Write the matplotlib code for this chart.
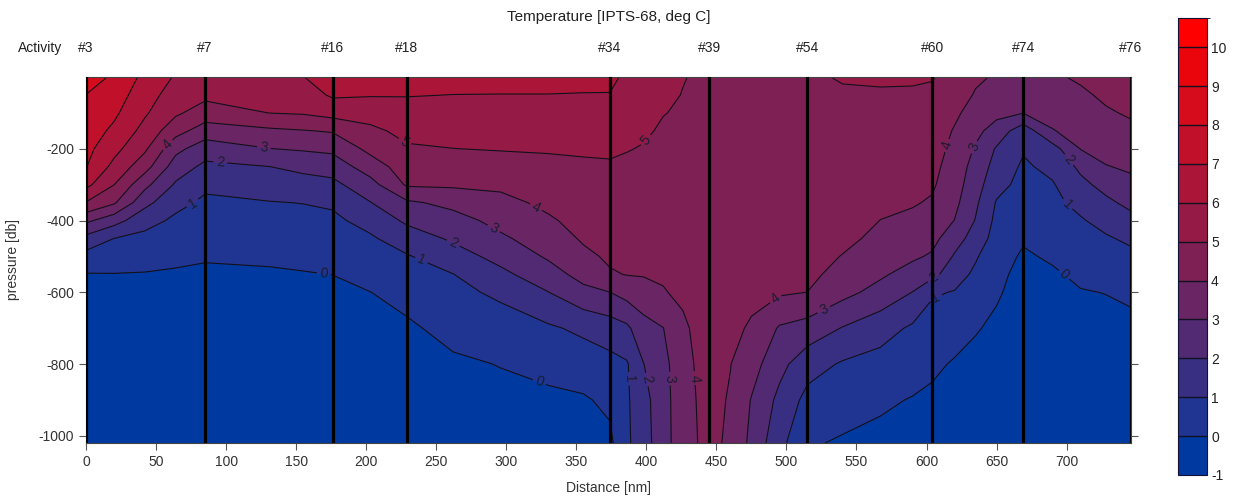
import numpy as np
import matplotlib
matplotlib.use("Agg")
import matplotlib.pyplot as plt
from matplotlib.colors import ListedColormap, BoundaryNorm
from matplotlib.transforms import blended_transform_factory

plt.rcParams['font.family'] = ['Liberation Sans', 'DejaVu Sans']
plt.rcParams['axes.unicode_minus'] = False

# ---------------- data ----------------
pressure_db = [0, 50, 100, 150, 200, 250, 300, 350, 400, 450, 500, 550, 600, 700, 800, 900, 1020]

station_names = ['#3', '#7', '#16', '#18', '#34', '#39', '#54', '#60', '#74', '#76']
station_dist = [0, 85, 176, 229, 374, 445, 515, 604, 669, 746]

# temperature profiles (deg C) at each cast, one row per cast, values at pressure_db
dist_a = [0, 20, 42, 64, 85]
temp_a = [
    [8.6, 7.98, 7.74, 7.51, 7.28, 7.04, 6.27, 4.95, 3.21, 1.68, 0.65, -0.05, -0.30, -0.45, -0.50, -0.50, -0.55],
    [7.8, 7.49, 7.18, 6.80, 6.30, 5.72, 5.01, 4.13, 2.39, 0.99, 0.49, -0.03, -0.30, -0.45, -0.50, -0.50, -0.55],
    [6.75, 6.44, 6.12, 5.68, 5.16, 4.40, 3.27, 2.29, 1.35, 0.74, 0.33, -0.05, -0.30, -0.45, -0.50, -0.50, -0.55],
    [5.9, 5.53, 5.15, 4.38, 3.27, 2.51, 1.88, 1.27, 0.82, 0.50, 0.18, -0.10, -0.30, -0.45, -0.50, -0.50, -0.55],
    [5.7, 5.22, 4.56, 3.50, 2.48, 1.78, 1.18, 0.83, 0.58, 0.33, 0.08, -0.15, -0.30, -0.45, -0.50, -0.50, -0.55],
]
dist_b = [131, 155, 176, 203, 229]
temp_b = [
    [5.6, 5.30, 5.01, 3.82, 2.98, 1.99, 1.46, 0.96, 0.69, 0.42, 0.16, -0.12, -0.30, -0.45, -0.50, -0.50, -0.55],
    [5.98, 5.55, 5.09, 3.95, 3.10, 2.25, 1.60, 1.02, 0.74, 0.52, 0.21, -0.05, -0.28, -0.42, -0.50, -0.50, -0.55],
    [6.4, 6.13, 5.36, 4.08, 3.22, 2.43, 1.74, 1.14, 0.80, 0.54, 0.27, 0.01, -0.25, -0.40, -0.45, -0.50, -0.50],
    [6.4, 6.06, 5.41, 4.78, 4.27, 3.49, 2.64, 1.97, 1.34, 0.87, 0.58, 0.28, -0.01, -0.30, -0.40, -0.45, -0.50],
    [6.4, 6.04, 5.65, 5.27, 4.88, 4.50, 4.12, 2.84, 2.17, 1.50, 0.92, 0.61, 0.31, -0.15, -0.30, -0.40, -0.45],
]
dist_c = [262, 296, 330, 355, 374]
temp_c = [
    [6.35, 5.99, 5.67, 5.33, 4.99, 4.58, 4.15, 3.27, 2.63, 2.14, 1.56, 0.98, 0.75, 0.29, -0.15, -0.30, -0.40],
    [6.35, 5.98, 5.67, 5.36, 5.05, 4.63, 4.18, 3.74, 3.30, 2.84, 2.32, 1.76, 1.18, 0.55, 0.03, -0.25, -0.35],
    [6.35, 5.98, 5.67, 5.37, 5.08, 4.78, 4.49, 4.20, 3.88, 3.50, 3.12, 2.59, 1.98, 0.86, 0.29, -0.20, -0.30],
    [6.35, 5.95, 5.67, 5.39, 5.10, 4.88, 4.68, 4.49, 4.30, 4.11, 3.79, 3.33, 2.73, 1.20, 0.48, -0.10, -0.25],
    [6.3, 5.95, 5.67, 5.40, 5.12, 4.91, 4.76, 4.60, 4.45, 4.29, 4.14, 3.91, 2.99, 1.51, 0.70, 0.19, -0.20],
]
dist_d = [386, 398, 412, 426, 445]
temp_d = [
    [5.75, 5.57, 5.39, 5.21, 5.03, 4.88, 4.74, 4.60, 4.46, 4.32, 4.18, 4.03, 3.37, 1.80, 0.90, 0.85, 0.80],
    [5.45, 5.33, 5.21, 5.09, 4.96, 4.83, 4.71, 4.58, 4.45, 4.32, 4.19, 4.06, 3.62, 2.63, 1.98, 1.70, 1.65],
    [5.25, 5.14, 5.02, 4.92, 4.82, 4.71, 4.61, 4.51, 4.40, 4.30, 4.20, 4.09, 3.95, 2.98, 2.65, 2.55, 2.50],
    [5.03, 4.98, 4.93, 4.88, 4.83, 4.78, 4.73, 4.67, 4.60, 4.50, 4.40, 4.28, 4.15, 3.85, 3.75, 3.72, 3.72],
    [4.85, 4.85, 4.84, 4.83, 4.82, 4.80, 4.78, 4.75, 4.72, 4.68, 4.64, 4.60, 4.55, 4.45, 4.35, 4.28, 4.22],
]
dist_e = [460, 475, 495, 515]
temp_e = [
    [4.85, 4.85, 4.84, 4.83, 4.82, 4.80, 4.78, 4.75, 4.70, 4.64, 4.57, 4.50, 4.42, 4.20, 4.02, 3.92, 3.85],
    [4.85, 4.85, 4.84, 4.82, 4.80, 4.77, 4.73, 4.68, 4.62, 4.54, 4.45, 4.33, 4.20, 3.90, 3.40, 2.95, 2.75],
    [4.88, 4.88, 4.87, 4.85, 4.83, 4.80, 4.75, 4.68, 4.60, 4.50, 4.38, 4.22, 4.12, 2.90, 2.30, 1.75, 1.30],
    [4.9, 4.90, 4.90, 4.88, 4.86, 4.83, 4.79, 4.73, 4.65, 4.55, 4.42, 4.25, 3.99, 2.60, 1.40, 0.70, 0.10],
]
dist_f = [540, 567, 590, 604]
temp_f = [
    [5.05, 4.92, 4.88, 4.84, 4.80, 4.75, 4.68, 4.58, 4.45, 4.25, 3.96, 3.65, 3.30, 1.95, 0.90, 0.40, -0.10],
    [5.1, 4.92, 4.82, 4.72, 4.62, 4.50, 4.35, 4.18, 3.99, 3.75, 3.50, 3.15, 2.65, 1.40, 0.65, 0.15, -0.25],
    [5.1, 4.90, 4.78, 4.66, 4.53, 4.40, 4.25, 4.08, 3.80, 3.50, 3.15, 2.60, 1.98, 0.85, 0.40, -0.05, -0.35],
    [5.05, 4.85, 4.70, 4.55, 4.40, 4.25, 4.12, 3.90, 3.60, 3.30, 2.88, 2.30, 1.10, 0.60, 0.20, -0.20, -0.40],
]
dist_g = [620, 635, 650, 669]
temp_g = [
    [4.7, 4.45, 4.18, 3.92, 3.75, 3.60, 3.45, 3.25, 2.98, 2.40, 1.90, 1.40, 0.95, 0.45, -0.10, -0.35, -0.45],
    [4.15, 3.92, 3.60, 3.25, 2.90, 2.60, 2.40, 2.18, 1.95, 1.60, 1.10, 0.82, 0.60, 0.08, -0.30, -0.45, -0.50],
    [3.9, 3.60, 3.25, 2.60, 1.90, 1.65, 1.35, 0.92, 0.75, 0.58, 0.40, 0.25, 0.12, -0.20, -0.40, -0.50, -0.55],
    [3.65, 3.40, 3.02, 1.40, 1.10, 0.85, 0.68, 0.52, 0.32, 0.10, -0.12, -0.30, -0.40, -0.50, -0.55, -0.55, -0.55],
]
dist_h = [690, 710, 728, 746]
temp_h = [
    [3.9, 3.60, 3.35, 2.95, 1.60, 1.25, 0.92, 0.75, 0.55, 0.35, 0.12, -0.12, -0.30, -0.45, -0.50, -0.55, -0.55],
    [4.1, 3.88, 3.60, 3.35, 3.03, 2.20, 1.75, 1.30, 0.90, 0.70, 0.45, 0.18, -0.05, -0.35, -0.50, -0.55, -0.55],
    [4.25, 4.12, 3.92, 3.70, 3.35, 2.95, 2.30, 1.80, 1.35, 0.88, 0.65, 0.35, 0.02, -0.30, -0.45, -0.50, -0.55],
    [4.35, 4.22, 4.08, 3.85, 3.55, 3.15, 2.75, 2.25, 1.72, 1.20, 0.75, 0.48, 0.18, -0.25, -0.45, -0.50, -0.55],
]

levels = [-1, 0, 1, 2, 3, 4, 5, 6, 7, 8, 9, 10, 10.75]
cbar_ticks = [-1, 0, 1, 2, 3, 4, 5, 6, 7, 8, 9, 10]
line_levels = [0, 1, 2, 3, 4, 5, 6, 7, 8, 9, 10]

# ---------------- build grid ----------------
dist = np.concatenate([dist_a, dist_b, dist_c, dist_d, dist_e, dist_f, dist_g, dist_h])
temp = np.vstack([temp_a, temp_b, temp_c, temp_d, temp_e, temp_f, temp_g, temp_h]).T
depth = -np.asarray(pressure_db, dtype=float)

# ---------------- colours ----------------
c0 = np.array([0, 58, 160]) / 255.0
c1 = np.array([255, 0, 0]) / 255.0
band_colors = []
for i in range(12):
    t = i / 11.0
    r = c1[0] * t ** 0.88
    g = c0[1] * (1 - t)
    b = c0[2] * (1 - t) ** 1.05
    band_colors.append((r, g, b))
cmap = ListedColormap(band_colors)
norm = BoundaryNorm(levels, cmap.N)

# ---------------- figure ----------------
fig = plt.figure(figsize=(12.38, 4.98), dpi=100)
ax = fig.add_axes([0.0695, 0.1110, 0.8441, 0.7343])

cf = ax.contourf(dist, depth, temp, levels=levels, cmap=cmap, norm=norm)
cs = ax.contour(dist, depth, temp, levels=line_levels, colors='#10101a', linewidths=0.8)

label_pos = [(57, -184), (74, -338), (127, -194), (96, -232), (170, -540),
             (228, -178), (262, -464), (240, -505), (291, -422), (322, -357),
             (324, -845), (401, -180), (391, -840), (405, -840), (419, -840),
             (431, -840), (494, -627), (528, -659), (614, -190), (631, -190),
             (606, -566), (608, -627), (705, -220), (700, -357), (698, -552)]
ax.clabel(cs, fmt='%d', fontsize=10, colors='#1c1c30', inline=True, inline_spacing=3,
          manual=label_pos)

for d in station_dist:
    ax.axvline(d, color='black', lw=2.3, zorder=5)

ax.set_xlim(0, 746)
ax.set_ylim(-1019, 0)
ax.set_xticks(range(0, 701, 50))
ax.set_yticks([-200, -400, -600, -800, -1000])
ax.tick_params(axis='both', direction='out', length=5, width=0.8, color='#555555',
               labelsize=10, labelcolor='#333333')
ax.tick_params(axis='y', right=True, labelright=False)
for s in ax.spines.values():
    s.set_color('#444444')
    s.set_linewidth(0.8)

ax.set_xlabel('Distance [nm]', fontsize=10, color='#333333')
ax.set_ylabel('pressure [db]', fontsize=10, color='#333333')
ax.xaxis.set_label_coords(0.5, -0.105)
ax.yaxis.set_label_coords(-0.063, 0.5)

trans = blended_transform_factory(ax.transData, ax.transAxes)
for d, name in zip(station_dist, station_names):
    ax.text(d, 1.079, name, transform=trans, ha='center', va='center',
            fontsize=10, color='#222222', clip_on=False)
ax.text(-0.044, 1.079, 'Activity', transform=ax.transAxes, ha='center', va='center',
        fontsize=10, color='#222222')
ax.text(0.5, 1.164, 'Temperature [IPTS-68, deg C]', transform=ax.transAxes,
        ha='center', va='center', fontsize=11, color='#222222')

# colour bar
cax = fig.add_axes([0.9515, 0.0462, 0.0234, 0.9177])
cb = fig.colorbar(cf, cax=cax, ticks=cbar_ticks, spacing='proportional')
cb.ax.tick_params(length=0, labelsize=10, labelcolor='#222222', pad=3)
cb.outline.set_edgecolor('#111133')
cb.outline.set_linewidth(0.8)
for v in line_levels:
    cax.axhline(v, color='#111122', lw=1.0)

fig.savefig('out.png', dpi=100)
